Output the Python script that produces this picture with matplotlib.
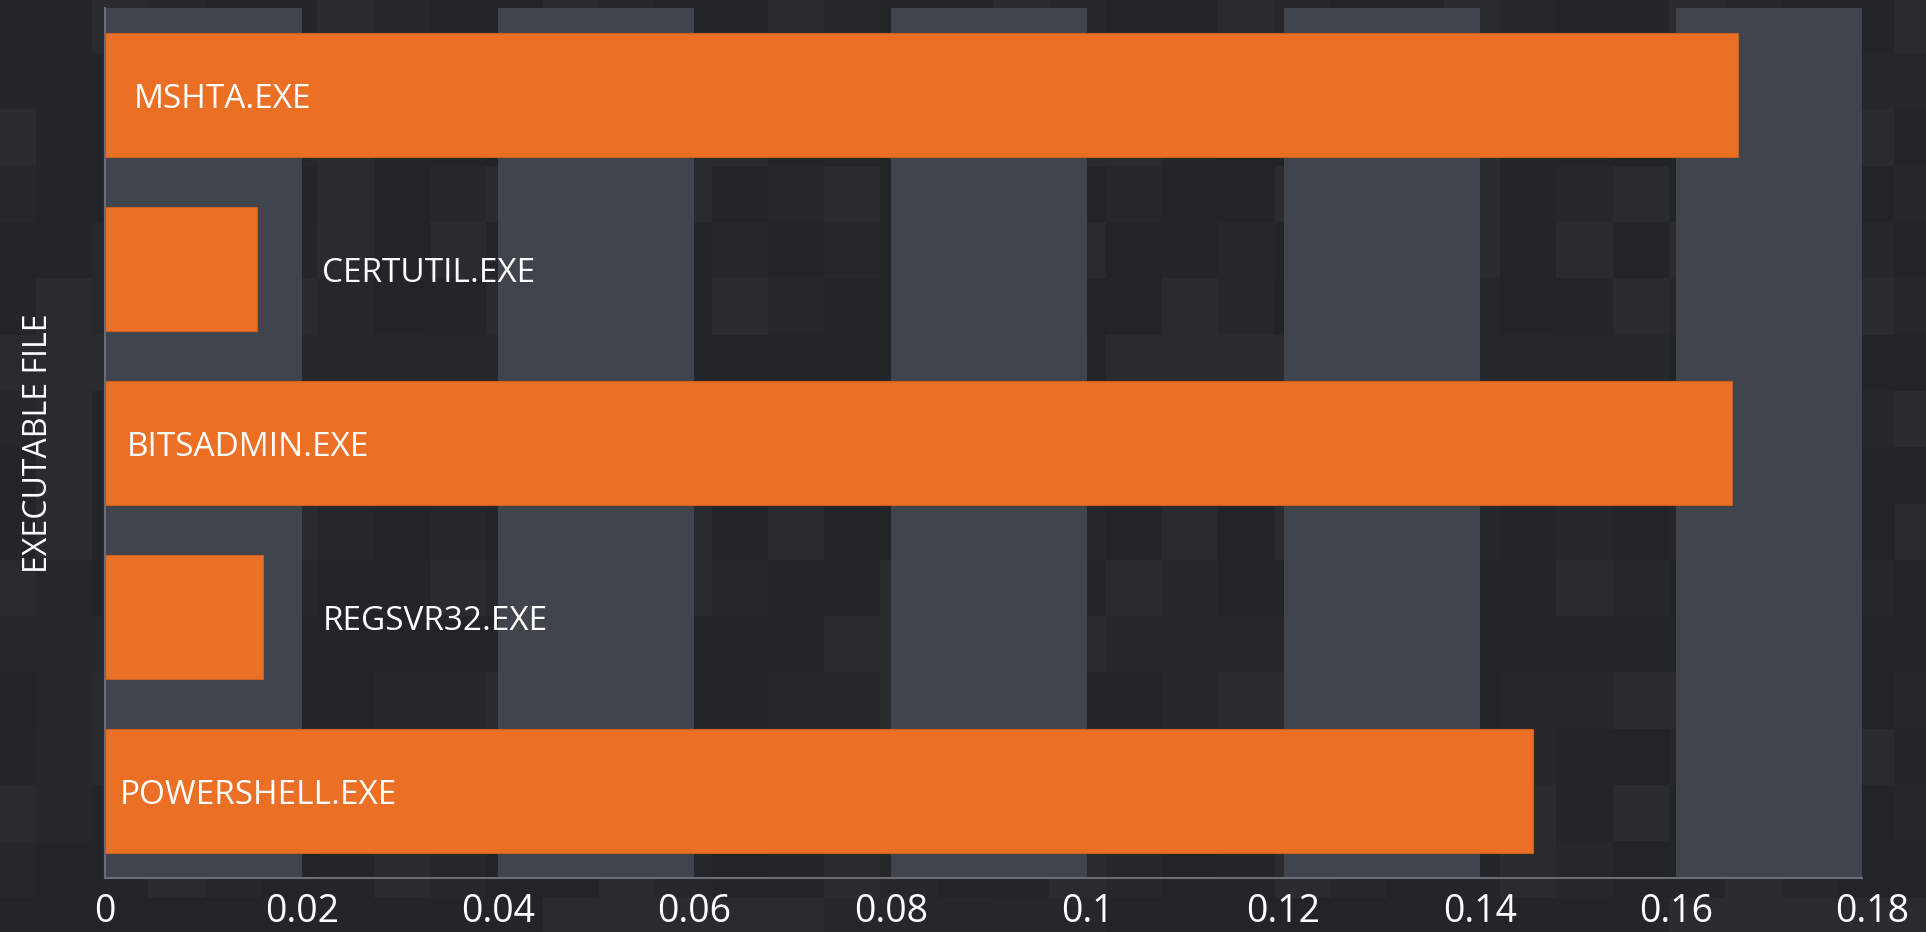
import matplotlib.pyplot as plt
import numpy as np
from matplotlib.colors import to_rgb

# score per executable, top to bottom
files = ['MSHTA.EXE', 'CERTUTIL.EXE', 'BITSADMIN.EXE', 'REGSVR32.EXE', 'POWERSHELL.EXE']
scores = [0.1663, 0.0155, 0.1657, 0.0161, 0.1454]
# where each name starts on the x axis
label_x = [0.0029, 0.0221, 0.0022, 0.0221, 0.0015]

x_ticks = [0, 0.02, 0.04, 0.06, 0.08, 0.1, 0.12, 0.14, 0.16, 0.18]
x_tick_labels = ['0', '0.02', '0.04', '0.06', '0.08', '0.1', '0.12', '0.14', '0.16', '0.18']

orange = '#EB6F24'
band = '#40444C'
axis_grey = '#6A6D74'
font = ['Open Sans', 'DejaVu Sans']

W, H = 1926, 932
fig = plt.figure(figsize=(W / 100, H / 100), dpi=100)
fig.patch.set_facecolor('#232628')

# dark checkered backdrop
shades = np.array([to_rgb(c) for c in ['#222527', '#25272A', '#292B2F', '#232629']])
cell = 56.3
nx, ny = 36, 18
ii, jj = np.meshgrid(np.arange(nx), np.arange(ny))
idx = (ii * 7 + jj * 3 + (ii * jj) % 5) % 4
bg = fig.add_axes([0, 0, 1, 1], zorder=-1)
bg.imshow(shades[idx], extent=(-20.6, -20.6 + nx * cell, -3 + ny * cell, -3),
          interpolation='nearest', aspect='auto')
bg.set_xlim(0, W)
bg.set_ylim(H, 0)
bg.axis('off')

ax = fig.add_axes([105.3 / W, 1 - 878 / H, (1872.6 - 105.3) / W, 870 / H])
ax.set_facecolor('none')

x_end = 0.1789
# alternating vertical bands
for i in range(0, len(x_ticks) - 1, 2):
    ax.axvspan(x_ticks[i], min(x_ticks[i + 1], x_end), color=band, lw=0, zorder=0)

y = np.arange(len(files))
ax.barh(y, scores, height=0.718, color=orange, edgecolor='#C9601F', linewidth=0.8, zorder=2)

for yi, name, lx in zip(y, files, label_x):
    ax.text(lx, yi, name, color='white', fontsize=24, va='center_baseline', ha='left',
            family=font, zorder=3)

ax.set_xlim(0, 0.18)
ax.set_ylim(len(files) - 0.5, -0.5)
ax.set_xticks(x_ticks)
ax.set_xticklabels(x_tick_labels, family=font)
ax.set_yticks([])
ax.tick_params(axis='x', length=0, pad=11, labelsize=27, labelcolor='white')

for side in ['top', 'right']:
    ax.spines[side].set_visible(False)
ax.spines['bottom'].set_color(axis_grey)
ax.spines['bottom'].set_linewidth(1.5)
ax.spines['bottom'].set_bounds(0, x_end)
ax.spines['left'].set_color(axis_grey)
ax.spines['left'].set_linewidth(1.5)

ax.set_ylabel('EXECUTABLE FILE', color='white', fontsize=23, family=font, labelpad=36)

fig.savefig('out.png', dpi=100, facecolor=fig.get_facecolor())
